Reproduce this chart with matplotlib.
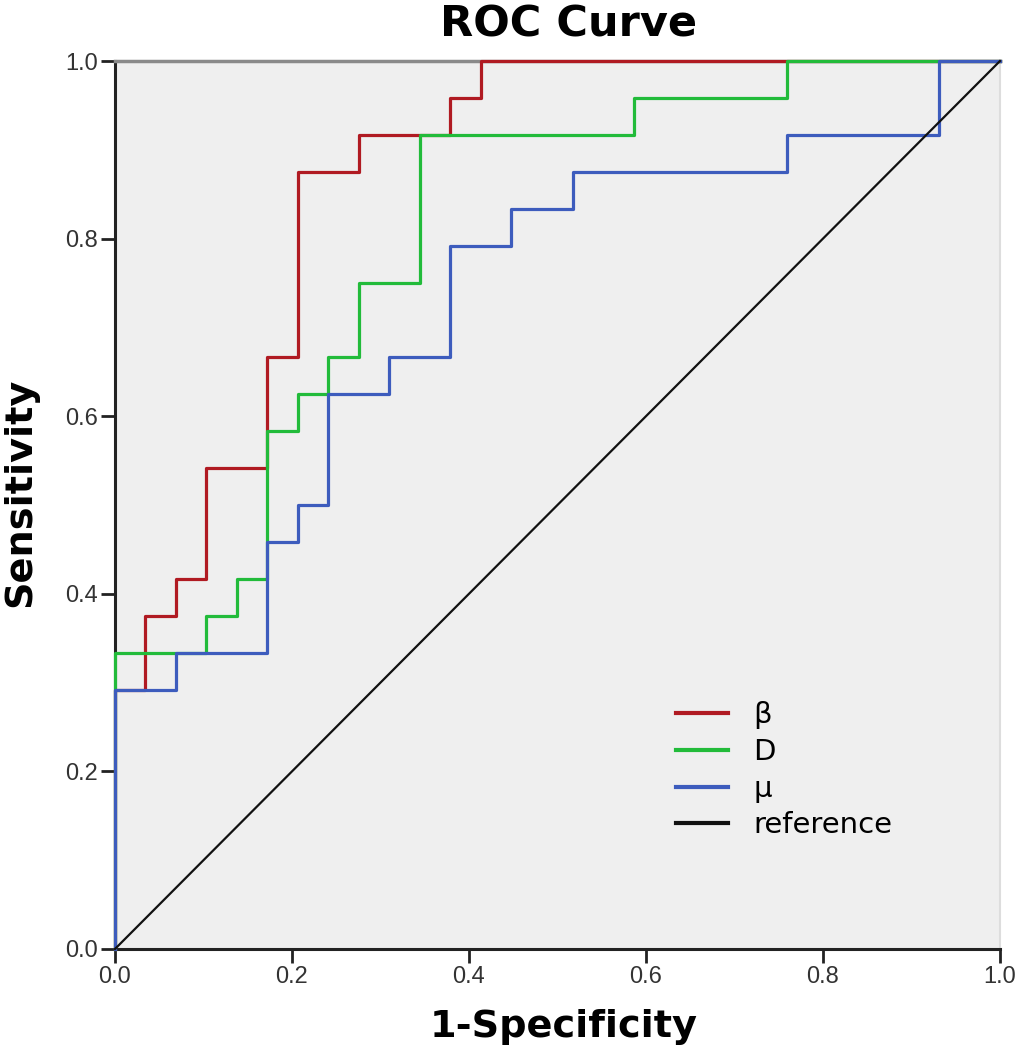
import numpy as np
import matplotlib
matplotlib.use("Agg")
import matplotlib.pyplot as plt
from matplotlib.lines import Line2D

plt.rcParams['font.family'] = ['Liberation Sans', 'DejaVu Sans']

# ROC corner points
beta_fpr = [0, 0, 0.034, 0.034, 0.069, 0.069, 0.103, 0.103, 0.172, 0.172,
            0.207, 0.207, 0.276, 0.276, 0.379, 0.379, 0.414, 0.414, 1.0]
beta_tpr = [0, 0.292, 0.292, 0.375, 0.375, 0.417, 0.417, 0.542, 0.542, 0.667,
            0.667, 0.875, 0.875, 0.917, 0.917, 0.958, 0.958, 1.0, 1.0]

d_fpr = [0, 0, 0.103, 0.103, 0.138, 0.138, 0.172, 0.172, 0.207, 0.207, 0.241,
         0.241, 0.276, 0.276, 0.345, 0.345, 0.586, 0.586, 0.759, 0.759, 1.0]
d_tpr = [0, 0.333, 0.333, 0.375, 0.375, 0.417, 0.417, 0.583, 0.583, 0.625, 0.625,
         0.667, 0.667, 0.75, 0.75, 0.917, 0.917, 0.958, 0.958, 1.0, 1.0]

mu_fpr = [0, 0, 0.069, 0.069, 0.172, 0.172, 0.207, 0.207, 0.241, 0.241, 0.310, 0.310,
          0.379, 0.379, 0.448, 0.448, 0.517, 0.517, 0.759, 0.759, 0.931, 0.931, 1.0]
mu_tpr = [0, 0.292, 0.292, 0.333, 0.333, 0.458, 0.458, 0.5, 0.5, 0.625, 0.625, 0.667,
          0.667, 0.792, 0.792, 0.833, 0.833, 0.875, 0.875, 0.917, 0.917, 1.0, 1.0]

ref_x = [0, 1]
ref_y = [0, 1]

labels = ['β', 'D', 'μ', 'reference']
colors = ['#b01a22', '#22bb3a', '#3d5cbd', '#111111']
ticks = [0.0, 0.2, 0.4, 0.6, 0.8, 1.0]

fig = plt.figure(figsize=(10.23, 10.5), dpi=100)
ax = fig.add_axes([0.1124, 0.0962, 0.8651, 0.8457])
ax.set_facecolor('#efefef')

ax.plot(beta_fpr, beta_tpr, color=colors[0], lw=2.3, clip_on=False, zorder=3)
ax.plot(d_fpr, d_tpr, color=colors[1], lw=2.3, clip_on=False, zorder=3)
ax.plot(mu_fpr, mu_tpr, color=colors[2], lw=2.3, clip_on=False, zorder=3)
ax.plot(ref_x, ref_y, color=colors[3], lw=1.6, clip_on=False, zorder=4)

ax.set_xlim(0, 1)
ax.set_ylim(0, 1)
ax.set_xticks(ticks)
ax.set_yticks(ticks)
ax.set_xticklabels([f'{t:.1f}' for t in ticks])
ax.set_yticklabels([f'{t:.1f}' for t in ticks])
ax.tick_params(axis='both', direction='out', length=10, width=2, color='#222222',
               labelsize=17, labelcolor='#333333', pad=2)

for side in ['left', 'bottom']:
    ax.spines[side].set_color('#222222')
    ax.spines[side].set_linewidth(2.2)
ax.spines['top'].set_color('#8a8a8a')
ax.spines['top'].set_linewidth(2.5)
ax.spines['right'].set_color('#dddddd')
ax.spines['right'].set_linewidth(1.5)

# wide lettering in the source, DejaVu matches its proportions better
wide = ['DejaVu Sans']

handles = [Line2D([0], [0], color=c, lw=3) for c in colors]
ax.legend(handles, labels, loc='upper left', bbox_to_anchor=(0.634, 0.279),
          frameon=False, prop={'family': wide, 'size': 21}, handlelength=1.78,
          handletextpad=0.86, labelspacing=0.3, borderpad=0, borderaxespad=0)

fig.text(0.556, 0.9648, 'ROC Curve', fontsize=31, fontweight='bold', family=wide,
         ha='center', va='baseline')
fig.text(0.551, 0.0124, '1-Specificity', fontsize=27.5, fontweight='bold', family=wide,
         ha='center', va='baseline')
fig.text(0.0196, 0.531, 'Sensitivity', fontsize=27.5, fontweight='bold', family=wide,
         rotation=90, ha='center', va='center')

fig.savefig('out.png', dpi=100)
